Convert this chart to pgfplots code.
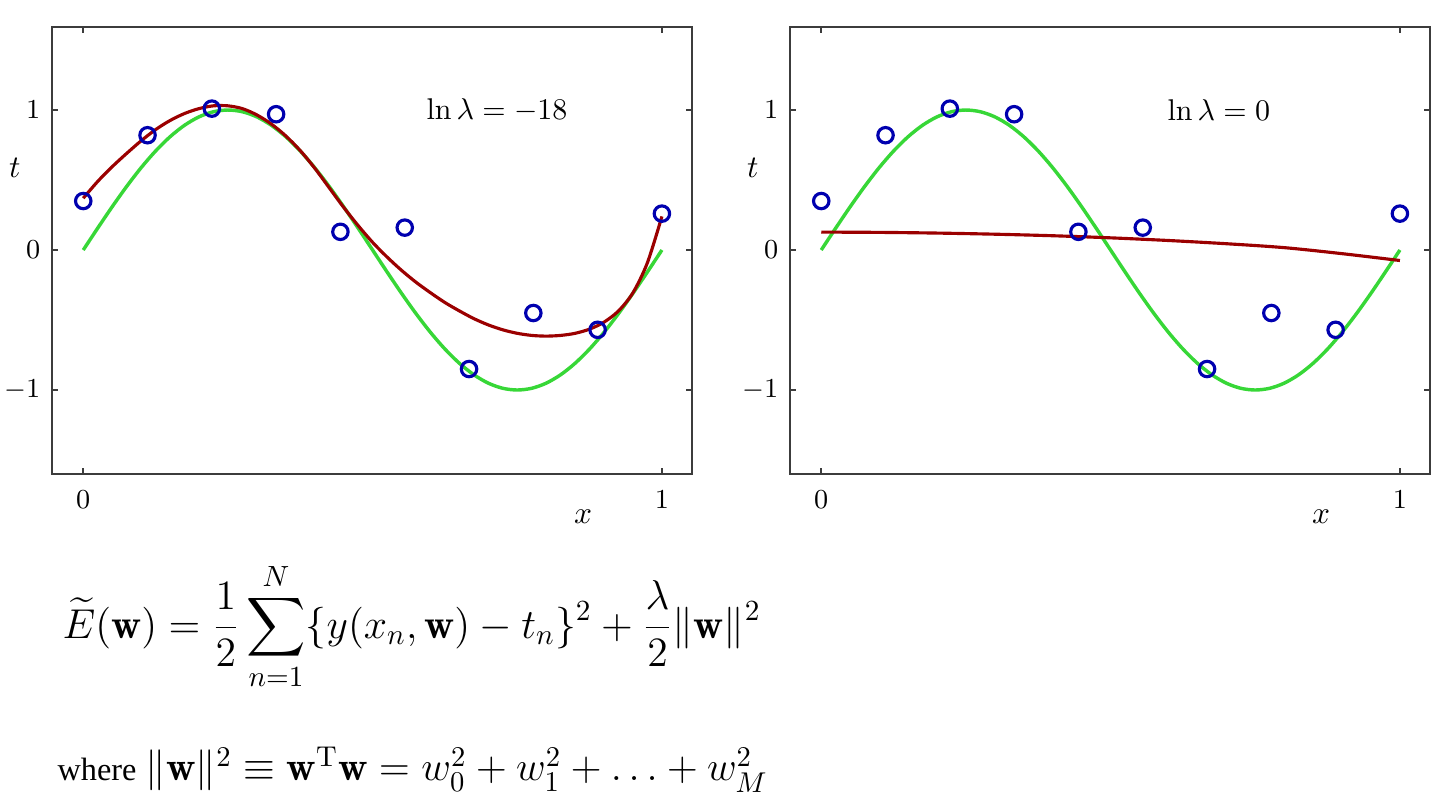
\RequirePackage{fix-cm}
\documentclass[border=0pt]{standalone}
\usepackage{exscale}
\usepackage{fontspec}
\newfontfamily\timesfont{Liberation Serif}
\usepackage{pgfplots}
\usepackage{pgfplotstable}
\pgfplotsset{compat=1.18}
\definecolor{cgreen}{RGB}{55,215,55}
\definecolor{cred}{RGB}{155,0,0}
\definecolor{cblue}{RGB}{0,0,175}
\definecolor{caxis}{RGB}{60,60,60}

\pgfplotstableread{
x t
0      0.35
0.1111 0.82
0.2222 1.01
0.3333 0.97
0.4444 0.13
0.5556 0.16
0.6667 -0.85
0.7778 -0.45
0.8889 -0.57
1      0.26
}\pts

\pgfplotstableread{
x t
0     0
0.025 0.1564
0.05  0.3090
0.075 0.4540
0.1   0.5878
0.125 0.7071
0.15  0.8090
0.175 0.8910
0.2   0.9511
0.225 0.9877
0.25  1
0.275 0.9877
0.3   0.9511
0.325 0.8910
0.35  0.8090
0.375 0.7071
0.4   0.5878
0.425 0.4540
0.45  0.3090
0.475 0.1564
0.5   0
0.525 -0.1564
0.55  -0.3090
0.575 -0.4540
0.6   -0.5878
0.625 -0.7071
0.65  -0.8090
0.675 -0.8910
0.7   -0.9511
0.725 -0.9877
0.75  -1
0.775 -0.9877
0.8   -0.9511
0.825 -0.8910
0.85  -0.8090
0.875 -0.7071
0.9   -0.5878
0.925 -0.4540
0.95  -0.3090
0.975 -0.1564
1     0
}\truth

\pgfplotstableread{
x t
0     0.37
0.025 0.49
0.05  0.595
0.075 0.69
0.1   0.78
0.125 0.86
0.15  0.925
0.175 0.975
0.2   1.01
0.225 1.03
0.25  1.03
0.275 1.01
0.3   0.965
0.325 0.90
0.35  0.815
0.375 0.71
0.4   0.585
0.425 0.445
0.45  0.305
0.475 0.175
0.5   0.055
0.525 -0.05
0.55  -0.145
0.575 -0.23
0.6   -0.305
0.625 -0.375
0.65  -0.435
0.675 -0.49
0.7   -0.535
0.725 -0.57
0.75  -0.595
0.775 -0.61
0.8   -0.615
0.825 -0.61
0.85  -0.595
0.875 -0.565
0.9   -0.515
0.925 -0.435
0.95  -0.305
0.975 -0.09
1     0.24
}\fitA

\pgfplotstableread{
x t
0   0.128
0.1 0.126
0.2 0.121
0.3 0.113
0.4 0.102
0.5 0.087
0.6 0.068
0.7 0.045
0.8 0.017
0.9 -0.026
1   -0.075
}\fitB

\pgfplotsset{
  myax/.style={
    scale only axis,
    width=224pt, height=156.45pt,
    xmin=-0.054, xmax=1.052, ymin=-1.6, ymax=1.593,
    xtick={0,1}, ytick={-1,0,1},
    tick align=inside,
    major tick length=2.1pt,
    axis line style={caxis, line width=0.7pt},
    every tick/.style={caxis, line width=0.7pt},
    tick label style={font=\fontsize{9.6}{11}\selectfont},
    xticklabel style={yshift=-2.2pt},
    yticklabel style={xshift=-0.6pt},
    xlabel={$x$}, ylabel={$t$},
    xlabel style={at={(axis description cs:0.83,-0.096)}, anchor=center, font=\fontsize{11}{13}\selectfont},
    ylabel style={at={(axis description cs:-0.058,0.685)}, anchor=center, rotate=-90, font=\fontsize{11}{13}\selectfont},
  },
  green curve/.style={color=cgreen, line width=1.2pt, smooth, no marks},
  red curve/.style={color=cred, line width=1.1pt, smooth, no marks},
  dots/.style={only marks, mark=o, mark size=2.7pt, color=cblue, mark options={line width=1.1pt}},
}

\begin{document}
\begin{tikzpicture}
\useasboundingbox (0,0) rectangle (504pt,-278.95pt);
\begin{axis}[myax, at={(18.2pt,-165.9pt)}, anchor=south west]
  \addplot[green curve] table[x=x,y=t] {\truth};
  \addplot[red curve] table[x=x,y=t] {\fitA};
  \addplot[dots] table[x=x,y=t] {\pts};
  \node[font=\fontsize{10.5}{12}\selectfont] at (axis cs:0.715,1.0) {$\ln\lambda = -18$};
\end{axis}
\begin{axis}[myax, at={(276.5pt,-165.9pt)}, anchor=south west]
  \addplot[green curve] table[x=x,y=t] {\truth};
  \addplot[red curve] table[x=x,y=t] {\fitB};
  \addplot[dots] table[x=x,y=t] {\pts};
  \node[font=\fontsize{10.5}{12}\selectfont] at (axis cs:0.687,1.0) {$\ln\lambda = 0$};
\end{axis}
\node[anchor=base west, inner sep=0pt, font=\fontsize{14.6}{18}\selectfont] at (21.7pt,-223.3pt)
  {$\displaystyle \widetilde{E}(\mathbf{w}) = \frac{1}{2}\sum_{n=1}^{N}\{y(x_n,\mathbf{w}) - t_n\}^2 + \frac{\lambda}{2}\|\mathbf{w}\|^2$};
\node[anchor=base west, inner sep=0pt] at (19.95pt,-273.3pt)
  {{\timesfont\fontsize{11.3}{13}\selectfont where} {\fontsize{14.3}{16}\selectfont$\|\mathbf{w}\|^2 \equiv \mathbf{w}^{\mathrm{T}}\mathbf{w} = w_0^2 + w_1^2 + \ldots + w_M^2$}};
\end{tikzpicture}
\end{document}
